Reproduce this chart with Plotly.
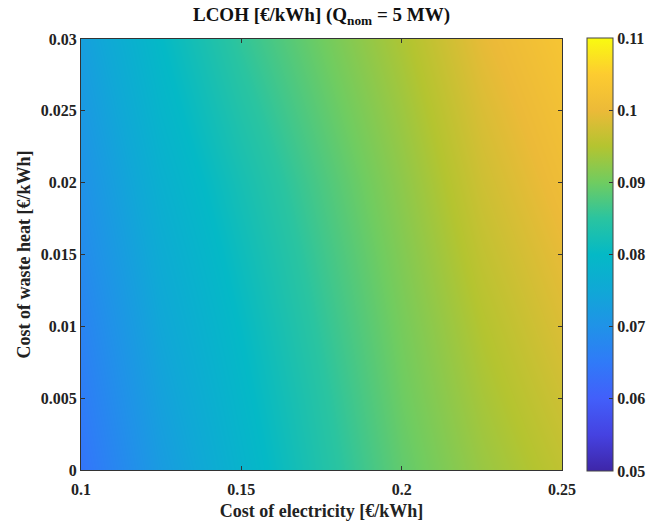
import plotly.graph_objects as go

# Grid of electricity and waste-heat costs [€/kWh]
elec_cost = [0.10, 0.125, 0.15, 0.175, 0.20, 0.225, 0.25]
heat_cost = [0.0, 0.005, 0.01, 0.015, 0.02, 0.025, 0.03]

# LCOH [€/kWh], one row per waste-heat cost
lcoh = [
    [0.0640, 0.0722, 0.0782, 0.0838, 0.0890, 0.0930, 0.0960],
    [0.0655, 0.0735, 0.0792, 0.0846, 0.0898, 0.0940, 0.0972],
    [0.0670, 0.0748, 0.0802, 0.0855, 0.0905, 0.0950, 0.0984],
    [0.0686, 0.0760, 0.0813, 0.0864, 0.0913, 0.0961, 0.0995],
    [0.0700, 0.0773, 0.0825, 0.0874, 0.0922, 0.0972, 0.1007],
    [0.0715, 0.0787, 0.0840, 0.0887, 0.0933, 0.0983, 0.1018],
    [0.0730, 0.0800, 0.0855, 0.0900, 0.0945, 0.0995, 0.1030],
]

x_ticks = [0.1, 0.15, 0.2, 0.25]
y_ticks = [0, 0.005, 0.01, 0.015, 0.02, 0.025, 0.03]
c_ticks = [0.05, 0.06, 0.07, 0.08, 0.09, 0.1, 0.11]

parula = [
    [0.000, "rgb(62,38,168)"],
    [0.083, "rgb(69,66,225)"],
    [0.167, "rgb(66,95,250)"],
    [0.250, "rgb(48,122,248)"],
    [0.333, "rgb(32,146,232)"],
    [0.417, "rgb(16,168,214)"],
    [0.500, "rgb(4,185,198)"],
    [0.583, "rgb(42,196,160)"],
    [0.667, "rgb(112,204,96)"],
    [0.750, "rgb(180,196,48)"],
    [0.833, "rgb(236,186,56)"],
    [0.917, "rgb(253,204,48)"],
    [1.000, "rgb(249,251,16)"],
]

font = "Liberation Serif, Times New Roman, serif"
ink = "#222"

fig = go.Figure(
    go.Heatmap(
        x=elec_cost,
        y=heat_cost,
        z=lcoh,
        zmin=0.05,
        zmax=0.11,
        zsmooth="best",
        colorscale=parula,
        colorbar=dict(
            x=1.052,
            xanchor="left",
            xpad=0,
            ypad=0,
            y=0.5,
            yanchor="middle",
            len=433,
            lenmode="pixels",
            thickness=26,
            outlinewidth=1,
            outlinecolor="#444",
            tickvals=c_ticks,
            ticktext=[f"<b>{v:g}</b>" for v in c_ticks],
            ticks="inside",
            ticklen=4,
            tickcolor="#333",
            tickfont=dict(family=font, size=16, color=ink),
        ),
    )
)

axis_common = dict(
    showline=True,
    linecolor="#333",
    linewidth=1,
    mirror="ticks",
    ticks="inside",
    ticklen=4,
    tickcolor="#333",
    showgrid=False,
    zeroline=False,
    tickfont=dict(family=font, size=16, color=ink),
)

fig.update_xaxes(
    range=[0.1, 0.25],
    tickvals=x_ticks,
    ticktext=[f"<b>{v:g}</b>" for v in x_ticks],
    ticklabelstandoff=5,
    title=dict(text="<b>Cost of electricity [€/kWh]</b>", font=dict(family=font, size=18, color=ink), standoff=7),
    **axis_common,
)
fig.update_yaxes(
    range=[0, 0.03],
    tickvals=y_ticks,
    ticktext=[f"<b>{v:g}</b>" for v in y_ticks],
    title=dict(text="<b>Cost of waste heat [€/kWh]</b>", font=dict(family=font, size=18, color=ink), standoff=5),
    **axis_common,
)

fig.update_layout(
    width=649,
    height=522,
    margin=dict(l=81, r=87, t=39, b=52, autoexpand=False),
    paper_bgcolor="white",
    plot_bgcolor="white",
    title=dict(
        text="<b>LCOH [€/kWh] (Q<sub>nom</sub> = 5 MW)</b>",
        x=0.5,
        xref="paper",
        xanchor="center",
        y=0.973,
        yanchor="middle",
        font=dict(family=font, size=19, color="#111"),
    ),
)

fig.write_html("out.html")
